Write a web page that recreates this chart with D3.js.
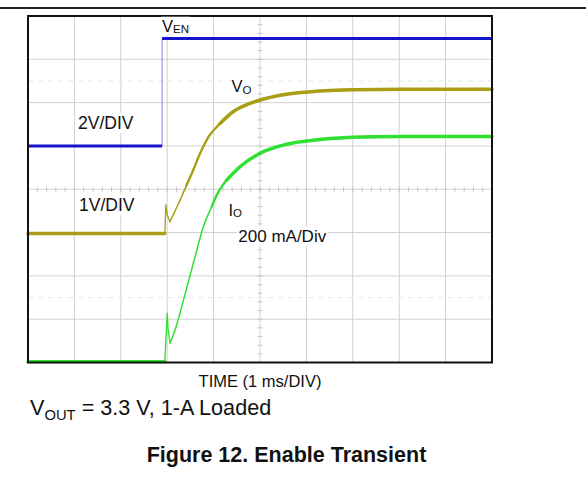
<!DOCTYPE html>
<html lang="en">
<head>
    <meta charset="UTF-8">
    <title>Enable Transient</title>
    <script src="https://cdn.jsdelivr.net/npm/d3@7"></script>
    <style>
        body { margin: 0; background: #fff; }
        text { font-family: Arial, "Liberation Sans", sans-serif; fill: #111; }
        .grid line { stroke: #d2d2d2; stroke-width: 1px; }
        .marker { stroke: #e8e8e8; stroke-width: 1px; stroke-dasharray: 5,5; }
        .minor { stroke: #c4c4c4; stroke-width: 1px; }
    </style>
</head>
<body>
<div id="chart"></div>
<script>
    // scope screen: 10 time divisions (1 ms/div), 8 vertical divisions (0 = bottom)
    const xDivs = d3.range(0, 11);
    const yDivs = d3.range(0, 9);
    const markerDiv = [1.5, 6.5];

    // V_EN (2 V/div)
    const venT   = [0, 2.89, 2.89, 10];
    const venDiv = [5.00, 5.00, 7.48, 7.48];

    // V_O (1 V/div)
    const voT   = [0, 2.95, 2.97, 3.00, 3.06, 3.20, 3.30, 3.41, 3.56, 3.71, 3.89, 4.14, 4.42, 4.78, 5.00, 5.50, 6.29, 7.00, 8.45, 10];
    const voDiv = [2.98, 2.98, 3.64, 3.41, 3.25, 3.57, 3.80, 4.08, 4.44, 4.83, 5.21, 5.52, 5.79, 5.98, 6.06, 6.18, 6.27, 6.30, 6.31, 6.31];

    // I_O (200 mA/div)
    const ioT   = [0, 2.95, 3.00, 3.02, 3.06, 3.17, 3.35, 3.49, 3.64, 3.78, 3.96, 4.07, 4.28, 4.57, 5.00, 5.50, 6.29, 7.00, 8.02, 10];
    const ioDiv = [0.02, 0.02, 1.14, 0.75, 0.45, 0.75, 1.44, 2.00, 2.60, 3.14, 3.60, 3.87, 4.21, 4.52, 4.83, 5.02, 5.15, 5.20, 5.22, 5.22];

    const W = 586, H = 479;
    const plot = {left: 28, right: 492, top: 16, bottom: 362.5};

    const svg = d3.select("#chart").append("svg")
        .attr("width", W)
        .attr("height", H);

    const x = d3.scaleLinear().domain([0, 10]).range([plot.left, plot.right]);
    const y = d3.scaleLinear().domain([0, 8]).range([plot.bottom, plot.top]);

    // rule at the top of the page
    svg.append("line")
        .attr("x1", 0).attr("x2", W)
        .attr("y1", 8).attr("y2", 8)
        .attr("stroke", "#222").attr("stroke-width", 2);

    // grid
    const grid = svg.append("g").attr("class", "grid");
    grid.selectAll("line.v")
        .data(xDivs.slice(1, -1))
        .enter().append("line")
        .attr("x1", d => x(d)).attr("x2", d => x(d))
        .attr("y1", plot.top).attr("y2", plot.bottom);
    grid.selectAll("line.h")
        .data(yDivs.slice(1, -1))
        .enter().append("line")
        .attr("x1", plot.left).attr("x2", plot.right)
        .attr("y1", d => y(d)).attr("y2", d => y(d));

    svg.selectAll("line.marker")
        .data(markerDiv)
        .enter().append("line")
        .attr("class", "marker")
        .attr("x1", plot.left).attr("x2", plot.right)
        .attr("y1", d => y(d)).attr("y2", d => y(d));

    // minor ticks on the centre cross
    svg.selectAll("line.mx")
        .data(d3.range(0.2, 10, 0.2))
        .enter().append("line")
        .attr("class", "minor")
        .attr("x1", d => x(d)).attr("x2", d => x(d))
        .attr("y1", y(4) - 2.5).attr("y2", y(4) + 2.5);
    svg.selectAll("line.my")
        .data(d3.range(0.2, 8, 0.2))
        .enter().append("line")
        .attr("class", "minor")
        .attr("x1", x(5) - 2.5).attr("x2", x(5) + 2.5)
        .attr("y1", d => y(d)).attr("y2", d => y(d));

    const linear = d3.line().x(d => x(d[0])).y(d => y(d[1]));
    const smooth = d3.line().x(d => x(d[0])).y(d => y(d[1])).curve(d3.curveMonotoneX);

    // trace: linear up to the dip after the switch-on spike, smooth after that.
    // the trace is thinner where it moves fast (like a scope)
    function trace(ts, vs, color, dipIdx, medFrom, thickFrom) {
        const pts = ts.map((t, i) => [t, vs[i]]);
        const g = svg.append("g")
            .attr("fill", "none")
            .attr("stroke", color)
            .attr("stroke-linecap", "round")
            .attr("stroke-linejoin", "round");
        g.append("path").attr("d", linear(pts.slice(0, dipIdx + 1))).attr("stroke-width", 1.3);
        g.append("path").attr("d", smooth(pts.slice(dipIdx))).attr("stroke-width", 1.5);
        g.append("path").attr("d", linear(pts.slice(0, 2))).attr("stroke-width", 3.4);
        const mi = ts.findIndex(t => t >= medFrom);
        g.append("path").attr("d", smooth(pts.slice(mi))).attr("stroke-width", 2.3);
        const ti = ts.findIndex(t => t >= thickFrom);
        g.append("path").attr("d", smooth(pts.slice(ti))).attr("stroke-width", 3.5);
    }
    trace(ioT, ioDiv, "#30e030", 4, 3.9, 4.25);
    trace(voT, voDiv, "#aa9e16", 4, 3.4, 4.1);

    // V_EN: flat levels thick, the edge a faint thin line
    const venPts = venT.map((t, i) => [t, venDiv[i]]);
    const ven = svg.append("g").attr("fill", "none").attr("stroke", "#1414c8");
    ven.append("path").attr("d", linear(venPts.slice(1, 3)))
        .attr("stroke-width", 1).attr("stroke-opacity", 0.55);
    ven.append("path").attr("d", linear(venPts.slice(0, 2))).attr("stroke-width", 3);
    ven.append("path").attr("d", linear(venPts.slice(2))).attr("stroke-width", 3);

    // frame
    svg.append("rect")
        .attr("x", plot.left).attr("y", plot.top)
        .attr("width", plot.right - plot.left)
        .attr("height", plot.bottom - plot.top)
        .attr("fill", "none")
        .attr("stroke", "#111").attr("stroke-width", 2);

    // labels with white background
    function label(px, py, main, sub, size, subSize, shift, bg) {
        const g = svg.append("g");
        const t = g.append("text")
            .attr("x", px).attr("y", py)
            .style("font-size", size + "px");
        t.append("tspan").text(main);
        if (sub) {
            t.append("tspan")
                .attr("dy", shift)
                .style("font-size", subSize + "px")
                .text(sub);
        }
        if (bg) {
            const b = t.node().getBBox();
            g.insert("rect", "text")
                .attr("x", b.x - 1).attr("y", b.y)
                .attr("width", b.width + 2).attr("height", b.height)
                .attr("fill", "#fff");
        }
        return t;
    }

    label(162, 31.7, "V", "EN", 16.5, 11.5, 1.6, true);
    label(231.5, 91.7, "V", "O", 16.5, 11.5, 2.3, true);
    label(78, 129, "2V/DIV", null, 17.5, 0, 0, true);
    label(79, 211, "1V/DIV", null, 17.5, 0, 0, true);
    label(228.5, 215.5, "I", "O", 16.5, 11.5, 1.8, true);
    label(238.3, 241.7, "200 mA/Div", null, 17, 0, 0, true);

    svg.append("text")
        .attr("x", x(5)).attr("y", 386.7)
        .attr("text-anchor", "middle")
        .style("font-size", "16.5px")
        .text("TIME (1 ms/DIV)");

    label(30, 415, "V", "OUT", 21.6, 14.8, 4.5, false)
        .append("tspan")
        .attr("dy", -4.5)
        .text(" = 3.3 V, 1-A Loaded");

    svg.append("text")
        .attr("x", 286.5).attr("y", 461.7)
        .attr("text-anchor", "middle")
        .style("font-size", "21.5px")
        .style("font-weight", "bold")
        .text("Figure 12. Enable Transient");
</script>
</body>
</html>
